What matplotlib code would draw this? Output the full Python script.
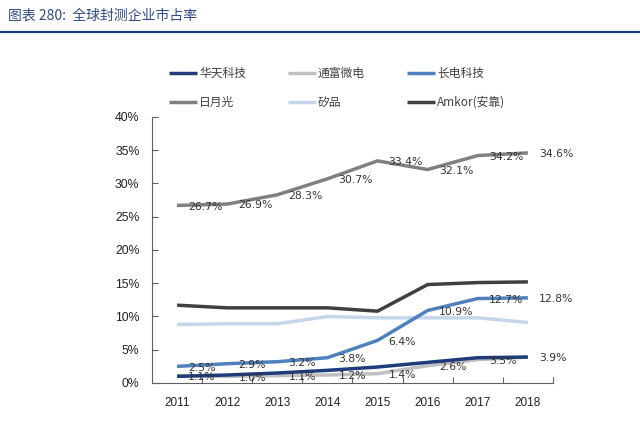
import matplotlib
matplotlib.use("Agg")
import matplotlib.pyplot as plt
from matplotlib.lines import Line2D
from matplotlib.ticker import FuncFormatter

plt.rcParams['font.family'] = ['Noto Sans CJK SC', 'DejaVu Sans']

years = ['2011', '2012', '2013', '2014', '2015', '2016', '2017', '2018']
huatian = [1.0, 1.2, 1.5, 1.9, 2.4, 3.1, 3.8, 3.9]
tongfu = [1.1, 1.0, 1.1, 1.2, 1.4, 2.6, 3.5, 3.9]
changdian = [2.5, 2.9, 3.2, 3.8, 6.4, 10.9, 12.7, 12.8]
ase = [26.7, 26.9, 28.3, 30.7, 33.4, 32.1, 34.2, 34.6]
spil = [8.8, 8.9, 8.9, 10.0, 9.8, 9.8, 9.8, 9.1]
amkor = [11.7, 11.3, 11.3, 11.3, 10.8, 14.8, 15.1, 15.2]

names = ['华天科技', '通富微电', '长电科技', '日月光', '矽品', 'Amkor(安靠)']
colors = ['#1F3C7A', '#C0C0C0', '#4F81BD', '#808080', '#C6D6EA', '#404040']

fig = plt.figure(figsize=(6.4, 4.37), dpi=100)
ax = fig.add_axes([0.2375, 0.1236, 0.864 - 0.2375, 0.7323 - 0.1236])

x = list(range(len(years)))
series = [huatian, tongfu, changdian, ase, spil, amkor]
zorders = [6, 5, 4, 2, 3, 2]
lines = {}
for name, vals, c, z in zip(names, series, colors, zorders):
    ln, = ax.plot(x, vals, color=c, lw=2.5, zorder=z, solid_capstyle='butt')
    lines[name] = ln

label_color = '#333333'
for vals in (tongfu, changdian, ase):
    for xi, v in zip(x, vals):
        ax.annotate(f'{v:.1f}%', (xi, v), xytext=(8, -1), textcoords='offset points',
                    ha='left', va='center', fontsize=7.8, color=label_color,
                    family='DejaVu Sans', zorder=10)

ax.set_xlim(-0.5, len(years) - 0.5)
ax.set_ylim(0, 40)
ax.set_yticks(range(0, 41, 5))
ax.yaxis.set_major_formatter(FuncFormatter(lambda v, p: f'{int(v)}%'))
ax.set_xticks([i + 0.5 for i in range(len(years))])
ax.set_xticklabels([])
ax.set_xticks(x, minor=True)
ax.set_xticklabels(years, minor=True)
ax.tick_params(axis='x', which='major', direction='in', length=4, color='#606060')
ax.tick_params(axis='x', which='minor', length=0, pad=10, labelsize=8.5, labelcolor='#202020')
ax.tick_params(axis='y', direction='in', length=4, color='#606060', pad=9,
               labelsize=8.8, labelcolor='#202020')
for lab in ax.get_xticklabels(minor=True) + ax.get_yticklabels():
    lab.set_family('Liberation Sans')
for s in ('top', 'right'):
    ax.spines[s].set_visible(False)
for s in ('left', 'bottom'):
    ax.spines[s].set_color('#606060')
    ax.spines[s].set_linewidth(0.8)

order = ['华天科技', '日月光', '通富微电', '矽品', '长电科技', 'Amkor(安靠)']
leg = fig.legend([lines[n] for n in order], order, ncol=3, loc='center',
                 bbox_to_anchor=(0.527, 0.7986), frameon=False, fontsize=8.5,
                 handlelength=2.3, handletextpad=0.2, columnspacing=3.6,
                 labelspacing=1.35, borderpad=0)
for t in leg.get_texts():
    t.set_color('#404040')

fig.text(0.0125, 1 - 16 / 437, '图表 280:  全球封测企业市占率', fontsize=10,
         style='italic', color='#2F4A85', ha='left', va='center')
fig.add_artist(Line2D([0, 1], [1 - 32 / 437, 1 - 32 / 437], transform=fig.transFigure,
                      color='#1F3C7A', lw=1.6))

fig.savefig('out.png', dpi=100)
